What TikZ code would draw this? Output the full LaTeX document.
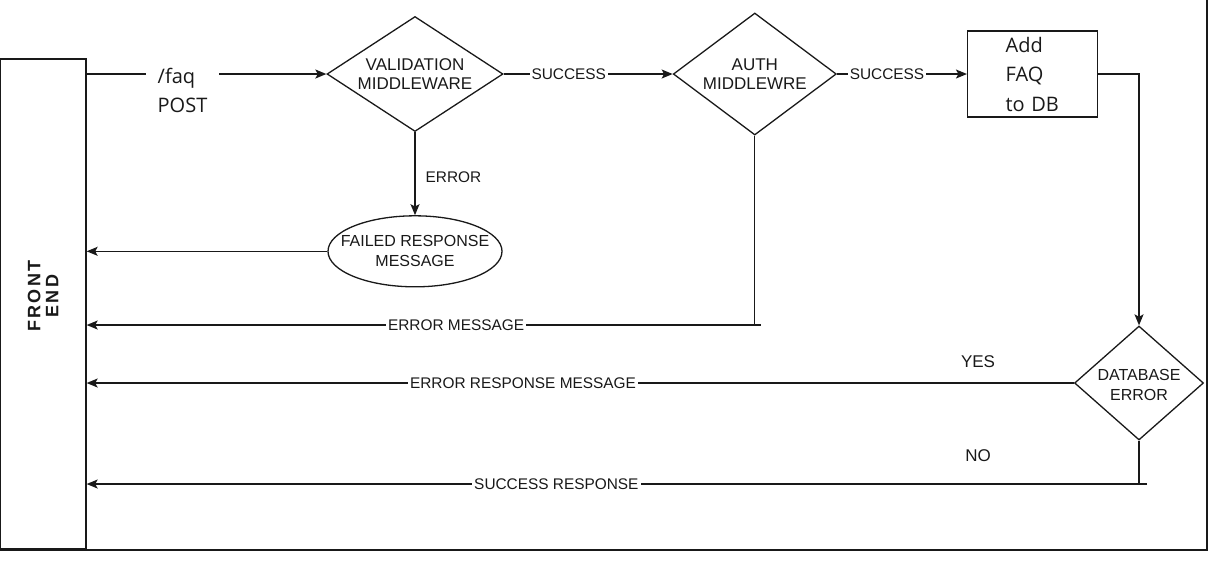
\documentclass[tikz,border=0pt]{standalone}
\usepackage{fontspec}
\setmainfont{Liberation Sans}
\newfontfamily\faqfont{Open Sans}
\usetikzlibrary{positioning,shapes.geometric,arrows.meta}

\begin{document}
\begin{tikzpicture}[x=1pt,y=1pt,line width=0.65pt,color=black!90,
    >={Stealth[length=5.5pt,width=4.5pt,inset=1.2pt]},
    lbl/.style={fill=white,inner xsep=1pt,inner ysep=1pt,font=\fontsize{7.7}{9}\selectfont},
    dia/.style={draw,diamond,inner sep=0pt},
    dtxt/.style={align=center,font=\fontsize{8.5}{9.5}\selectfont}]
    \useasboundingbox (0,0) rectangle (612,-285);
    \node (front) [draw,minimum width=43pt,minimum height=245pt,inner sep=0pt] at (21.5,-152) {};
    \node (fronttxt) [rotate=90,align=center,font=\fontsize{9}{9}\selectfont\bfseries\addfontfeatures{LetterSpace=12}] at ([yshift=4pt]front.center) {FRONT\\END};
    \node (valid) [dia,minimum width=88pt,minimum height=57.5pt] at (207.5,-37) {};
    \node (validtxt) [dtxt] at (valid) {VALIDATION\\MIDDLEWARE};
    \node (auth) [dia,minimum width=81.5pt,minimum height=61pt,right=84.5pt of valid] {};
    \node (authtxt) [dtxt] at (auth) {AUTH\\MIDDLEWRE};
    \node (addfaq) [draw,right=65pt of auth,minimum height=43pt,text width=27pt,inner xsep=19pt,inner ysep=0pt,align=left,font=\faqfont\fontsize{10}{14.75}\selectfont] {Add\\FAQ\\to DB};
    \node (fail) [draw,ellipse,minimum width=87pt,minimum height=35.5pt,inner sep=0pt,below=41.5pt of valid] {};
    \node (failtxt) [dtxt,font=\fontsize{8}{10}\selectfont] at (fail) {FAILED RESPONSE\\MESSAGE};
    \node (dberr) [dia,minimum width=64.5pt,minimum height=57pt] at (569.5,-191.5) {};
    \node (dbtxt) [dtxt,font=\fontsize{8}{10}\selectfont] at ([yshift=-1pt]dberr) {DATABASE\\ERROR};
    \coordinate (autherr) at (auth.south |- 0,-162.5);
    \coordinate (dbok) at (dberr.south |- 0,-242);
    \draw[->] (front.east |- valid.west) -- (valid.west);
    \node (faqlbl) [fill=white,align=left,inner xsep=5.75pt,font=\faqfont\fontsize{10}{14.5}\selectfont] at (91.25,-45) {/faq\\POST};
    \path (valid) edge[->] node[lbl,pos=.385] {SUCCESS} (auth)
          (auth) edge[->] node[lbl,pos=.385] {SUCCESS} (addfaq)
          (valid) edge[->] node[lbl,fill=none,right=4pt,pos=.54] {ERROR} (fail)
          (fail.west) edge[->] (fail.west -| front.east)
          (dberr.west) edge[->] node[lbl,pos=.558] {ERROR RESPONSE MESSAGE} (dberr.west -| front.east);
    \draw[->] (addfaq.east) -| (dberr.north);
    \draw (auth.south) -- (autherr);
    \draw[->] ([xshift=3pt]autherr) -- node[lbl,pos=.452] {ERROR MESSAGE} (autherr -| front.east);
    \draw (dberr.south) -- (dbok);
    \draw[->] ([xshift=4pt]dbok) -- node[lbl,pos=.557] {SUCCESS RESPONSE} (dbok -| front.east);
    \node (yes) [dtxt] at (489,-181) {YES};
    \node (no) [dtxt] at (489,-228) {NO};
    \draw[line width=1pt] (603.5,0) -- (603.5,-275) -- (0,-275);
\end{tikzpicture}
\end{document}
